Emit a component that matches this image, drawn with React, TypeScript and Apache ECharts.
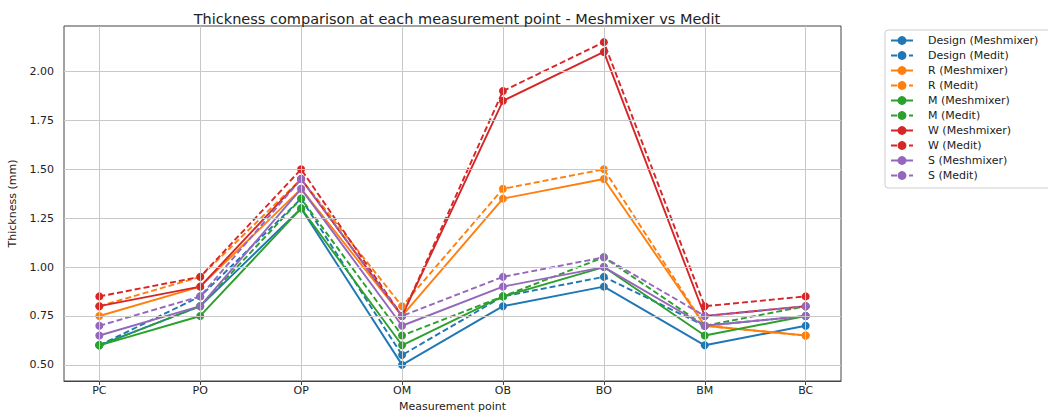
import React, { useEffect, useRef } from "react";
import * as echarts from "echarts";

const categories = ["PC", "PO", "OP", "OM", "OB", "BO", "BM", "BC"];
const yTicks = [0.5, 0.75, 1.0, 1.25, 1.5, 1.75, 2.0];

const designMeshmixer = [0.6, 0.8, 1.3, 0.5, 0.8, 0.9, 0.6, 0.7];
const designMedit = [0.6, 0.85, 1.35, 0.55, 0.85, 0.95, 0.7, 0.75];
const rMeshmixer = [0.75, 0.9, 1.4, 0.75, 1.35, 1.45, 0.7, 0.65];
const rMedit = [0.8, 0.95, 1.45, 0.8, 1.4, 1.5, 0.7, 0.65];
const mMeshmixer = [0.6, 0.75, 1.3, 0.6, 0.85, 1.0, 0.65, 0.75];
const mMedit = [0.6, 0.8, 1.35, 0.65, 0.85, 1.05, 0.7, 0.8];
const wMeshmixer = [0.8, 0.9, 1.45, 0.75, 1.85, 2.1, 0.75, 0.8];
const wMedit = [0.85, 0.95, 1.5, 0.75, 1.9, 2.15, 0.8, 0.85];
const sMeshmixer = [0.65, 0.8, 1.4, 0.7, 0.9, 1.0, 0.7, 0.75];
const sMedit = [0.7, 0.85, 1.45, 0.75, 0.95, 1.05, 0.75, 0.8];

const seriesDefs = [
  { name: "Design (Meshmixer)", data: designMeshmixer, color: "#1f77b4", dashed: false },
  { name: "Design (Medit)", data: designMedit, color: "#1f77b4", dashed: true },
  { name: "R (Meshmixer)", data: rMeshmixer, color: "#ff7f0e", dashed: false },
  { name: "R (Medit)", data: rMedit, color: "#ff7f0e", dashed: true },
  { name: "M (Meshmixer)", data: mMeshmixer, color: "#2ca02c", dashed: false },
  { name: "M (Medit)", data: mMedit, color: "#2ca02c", dashed: true },
  { name: "W (Meshmixer)", data: wMeshmixer, color: "#d62728", dashed: false },
  { name: "W (Medit)", data: wMedit, color: "#d62728", dashed: true },
  { name: "S (Meshmixer)", data: sMeshmixer, color: "#9467bd", dashed: false },
  { name: "S (Medit)", data: sMedit, color: "#9467bd", dashed: true },
];

const FONT = "DejaVu Sans";

export default function App() {
  const ref = useRef<HTMLDivElement>(null);
  useEffect(() => {
    document.body.style.margin = "0";
    const chart = echarts.init(ref.current!, undefined, { renderer: "svg" });
    const xIdx = categories.map((_, i) => i);
    const gridSeries = {
      type: "line",
      name: "__grid",
      data: [],
      z: 0,
      silent: true,
      markLine: {
        silent: true,
        symbol: ["none", "none"],
        label: { show: false },
        lineStyle: { color: "#c8c8c8", width: 1, type: "solid" },
        animation: false,
        data: [
          ...xIdx.map((i) => ({ xAxis: i })),
          ...yTicks.map((v) => ({ yAxis: v })),
        ],
      },
    };
    const lines = seriesDefs.map((s) => ({
      type: "line",
      name: s.name,
      data: s.data.map((v, i) => [i, v]),
      z: 2,
      symbol: "circle",
      symbolSize: 8,
      showSymbol: true,
      color: s.color,
      itemStyle: { color: s.color },
      lineStyle: { color: s.color, width: 1.9, type: s.dashed ? [6, 3] : "solid" },
    }));
    chart.setOption({
      animation: false,
      title: {
        text: "Thickness comparison at each measurement point - Meshmixer vs Medit",
        left: 452,
        textAlign: "center",
        top: 6,
        textStyle: { fontFamily: FONT, fontSize: 14.5, fontWeight: "normal", color: "#222" },
      },
      legend: {
        orient: "vertical",
        left: 885,
        top: 30,
        padding: [5, 30, 7, 5],
        itemGap: 4,
        itemWidth: 22,
        itemHeight: 11,
        borderColor: "#cccccc",
        borderWidth: 1,
        borderRadius: 3,
        data: seriesDefs.map((s) => s.name),
        textStyle: { fontFamily: FONT, fontSize: 11, color: "#222", padding: [0, 0, 0, 10] },
      },
      grid: {
        left: 64,
        right: 207,
        top: 26,
        bottom: 31,
        outerBoundsMode: "none",
        containLabel: false,
        show: true,
        borderColor: "#444",
        borderWidth: 1,
        backgroundColor: "transparent",
      },
      xAxis: {
        type: "value",
        min: -0.35,
        max: 7.35,
        name: "Measurement point",
        nameLocation: "middle",
        nameGap: 15,
        nameTextStyle: { fontFamily: FONT, fontSize: 11, color: "#222", verticalAlign: "top", lineHeight: 12 },
        axisLine: { show: true, lineStyle: { color: "#444" } },
        axisTick: { show: true, length: 4, customValues: xIdx, lineStyle: { color: "#444" } },
        axisLabel: {
          customValues: xIdx,
          formatter: (v: number) => categories[Math.round(v)],
          fontFamily: FONT,
          fontSize: 11,
          color: "#222",
          margin: 4,
        },
        splitLine: { show: false },
      },
      yAxis: {
        type: "value",
        min: 0.4175,
        max: 2.2325,
        name: "Thickness (mm)",
        nameLocation: "middle",
        nameGap: 46,
        nameTextStyle: { fontFamily: FONT, fontSize: 11, color: "#222" },
        axisLine: { show: true, lineStyle: { color: "#444" } },
        axisTick: { show: true, length: 4, customValues: yTicks, lineStyle: { color: "#444" } },
        axisLabel: {
          customValues: yTicks,
          formatter: (v: number) => v.toFixed(2),
          fontFamily: FONT,
          fontSize: 11,
          color: "#222",
          margin: 10,
        },
        splitLine: { show: false },
      },
      series: [gridSeries, ...lines],
    });
    return () => chart.dispose();
  }, []);
  return <div ref={ref} style={{ width: 1048, height: 412 }} />;
}
